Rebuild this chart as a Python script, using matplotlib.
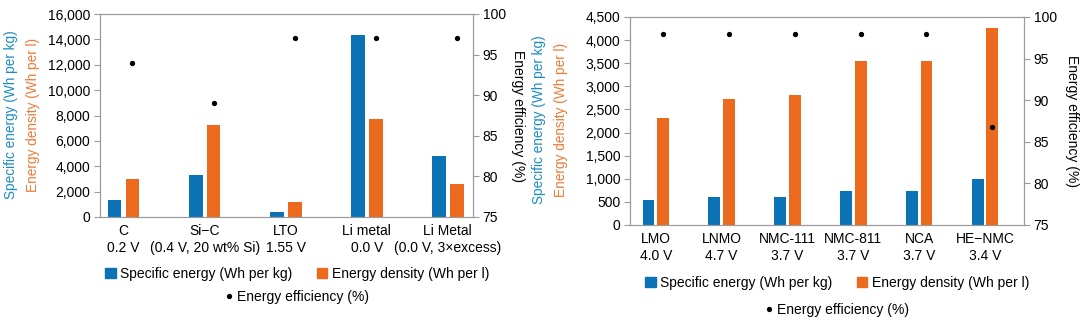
import numpy as np
import matplotlib
matplotlib.use('Agg')
import matplotlib.pyplot as plt
from matplotlib.patches import Patch
from matplotlib.lines import Line2D

plt.rcParams['font.family'] = ['Liberation Sans', 'DejaVu Sans']
plt.rcParams['font.size'] = 10

# anode data
anodes = ['C\n0.2 V', 'Si\u2212C\n(0.4 V, 20 wt% Si)', 'LTO\n1.55 V',
          'Li metal\n0.0 V', 'Li Metal\n(0.0 V, 3\u00d7excess)']
anode_spec = [1350, 3300, 370, 14350, 4800]
anode_dens = [2970, 7250, 1200, 7700, 2600]
anode_eff = [94.0, 89.0, 97.0, 97.0, 97.0]

# cathode data
cathodes = ['LMO\n4.0 V', 'LNMO\n4.7 V', 'NMC-111\n3.7 V', 'NMC-811\n3.7 V',
            'NCA\n3.7 V', 'HE\u2212NMC\n3.4 V']
cath_spec = [540, 615, 600, 745, 745, 1005]
cath_dens = [2315, 2730, 2815, 3550, 3550, 4260]
cath_eff = [97.9, 97.9, 97.9, 97.9, 97.9, 86.8]

BLUE = '#0a72b5'
ORANGE = '#ec6a1e'
LBLUE = '#1b8cc4'
LORANGE = '#ee7a35'
GREY = '#9a9a9a'

W, H = 1084, 320
fig = plt.figure(figsize=(W / 100, H / 100), dpi=100)


def px_axes(l, t, r, b):
  return fig.add_axes([l / W, 1 - b / H, (r - l) / W, (b - t) / H])


def draw_panel(ax, labels, spec, dens, eff, ymax, ystep, xlim, bw, lpad):
  x = np.arange(len(labels))
  ax.bar(x - 0.11, spec, width=bw, color=BLUE, zorder=2)
  ax.bar(x + 0.11, dens, width=bw, color=ORANGE, zorder=2)
  ax.set_ylim(0, ymax)
  ax.set_yticks(np.arange(0, ymax + 1, ystep))
  ax.set_yticklabels(['{:,}'.format(v) for v in range(0, ymax + 1, ystep)])
  ax.set_xlim(*xlim)
  ax.set_xticks(x)
  ax.set_xticklabels(labels, linespacing=1.3)
  ax.tick_params(axis='x', length=0, pad=5)
  ax.tick_params(axis='y', length=4, color=GREY, pad=3)
  for s in ax.spines.values():
    s.set_color(GREY)
  ax2 = ax.twinx()
  ax2.plot(x + 0.11, eff, 'o', color='black', ms=2.8, zorder=3)
  ax2.set_ylim(75, 100)
  ax2.set_yticks([75, 80, 85, 90, 95, 100])
  ax2.tick_params(axis='y', length=4, color=GREY, pad=3)
  for s in ax2.spines.values():
    s.set_color(GREY)
  ax2.set_ylabel('Energy efficiency (%)', rotation=270, labelpad=lpad)
  return ax2


axL = px_axes(100, 14, 473, 217)
draw_panel(axL, anodes, anode_spec, anode_dens, anode_eff, 16000, 2000,
           (-0.29, 4.31), 0.17, 14)
axR = px_axes(630, 17, 1024, 225)
draw_panel(axR, cathodes, cath_spec, cath_dens, cath_eff, 4500, 500,
           (-0.39, 5.59), 0.18, 16)

# two-coloured y labels
for xa, xb, yc in [(11, 33, 115), (539, 561, 120)]:
  fig.text(xa / W, 1 - yc / H, 'Specific energy (Wh per kg)', color=LBLUE,
           rotation=90, ha='center', va='center', fontsize=9.8)
  fig.text(xb / W, 1 - yc / H, 'Energy density (Wh per l)', color=LORANGE,
           rotation=90, ha='center', va='center', fontsize=9.8)

# legends
bar_handles = [Patch(color=BLUE, label='Specific energy (Wh per kg)'),
               Patch(color=ORANGE, label='Energy density (Wh per l)')]
dot_handle = [Line2D([], [], marker='o', ls='none', color='black', ms=2.8,
                     label='Energy efficiency (%)')]
for xc, y1, y2 in [(297, 274, 297), (837, 283, 310)]:
  fig.legend(handles=bar_handles, ncol=2, loc='center',
             bbox_to_anchor=(xc / W, 1 - y1 / H), frameon=False,
             handlelength=0.75, handleheight=0.75, handletextpad=0.3,
             columnspacing=1.8, borderpad=0, borderaxespad=0)
  fig.legend(handles=dot_handle, loc='center',
             bbox_to_anchor=(xc / W, 1 - y2 / H), frameon=False,
             handlelength=0.5, handletextpad=0.3, borderpad=0,
             borderaxespad=0)

fig.savefig('out.png', dpi=100)
